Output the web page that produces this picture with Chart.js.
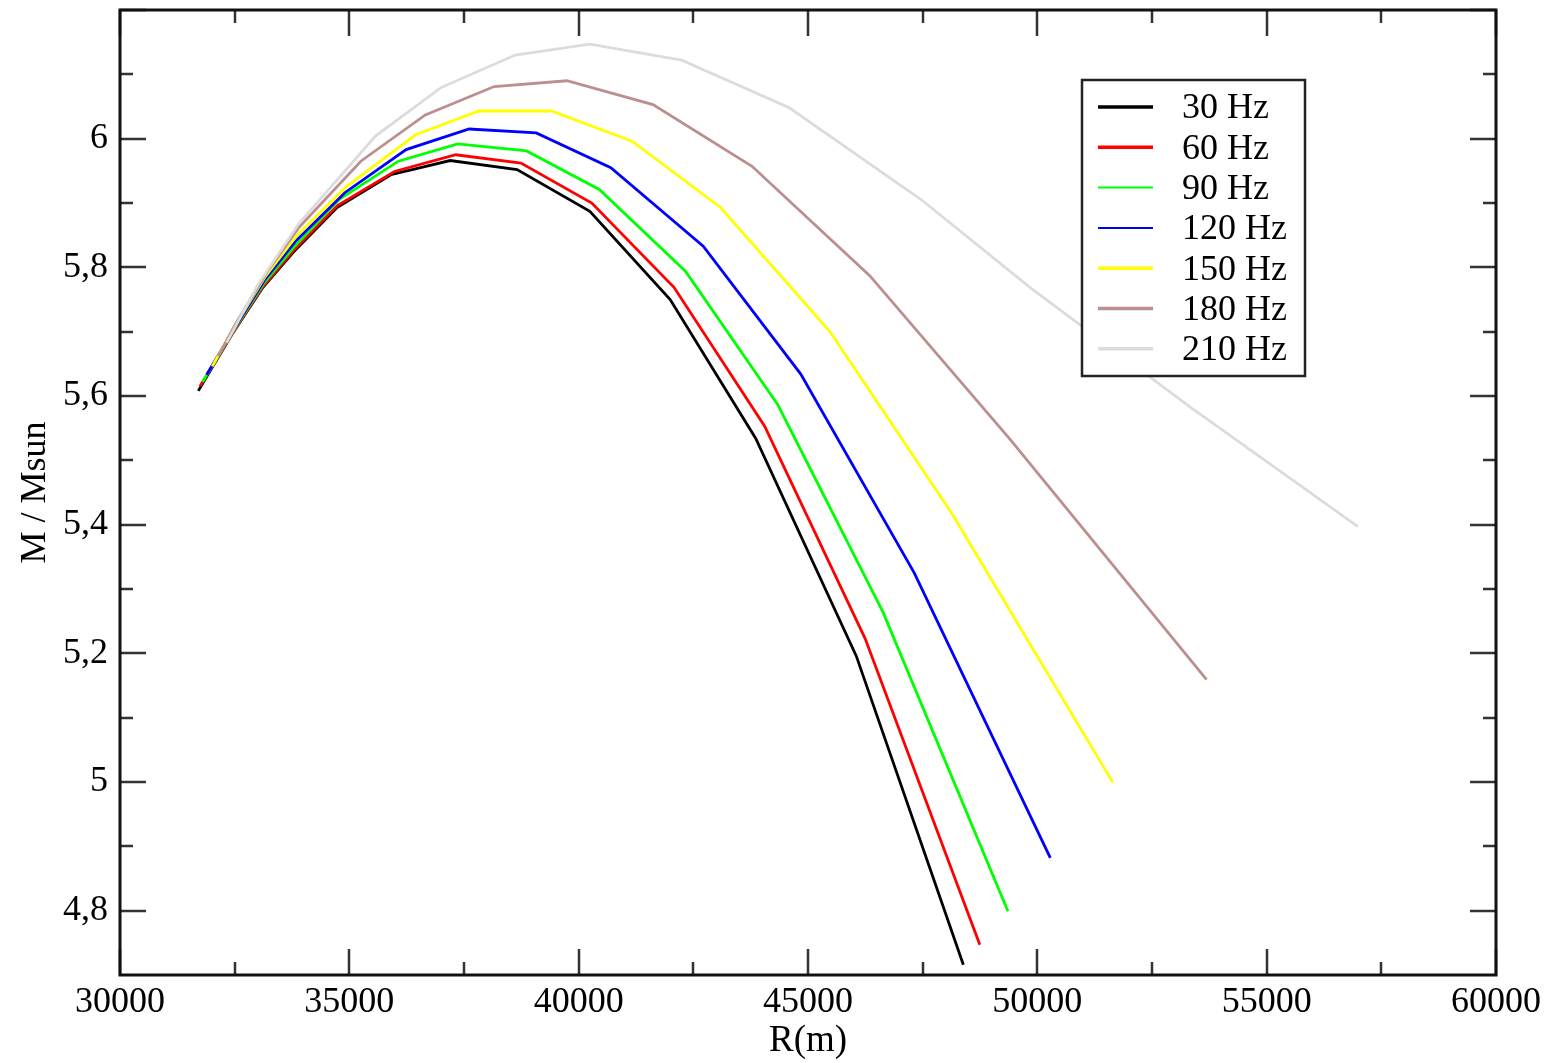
<!DOCTYPE html>
<html>
<head>
<meta charset="utf-8">
<script src="https://cdn.jsdelivr.net/npm/chart.js@4.4.0/dist/chart.umd.min.js"></script>
<style>
  body { margin: 0; background: #fff; }
  #wrap { width: 1556px; height: 1063px; }
</style>
</head>
<body>
<div id="wrap"><canvas id="massRadius" width="1556" height="1063"></canvas></div>
<script>
// Mass-radius curves for several rotation frequencies
var freqLabels = ['30 Hz', '60 Hz', '90 Hz', '120 Hz', '150 Hz', '180 Hz', '210 Hz'];
var lineColors = ['#000000', '#ff0000', '#00ff00', '#0000ff', '#ffff00', '#bc8f8f', '#dcdcdc'];

var r30 = [31707, 32442, 33118, 33772, 34731, 35906, 37199, 38657, 40244, 41995, 43861, 46052, 48387];
var m30 = [5.608, 5.696, 5.769, 5.823, 5.893, 5.944, 5.966, 5.952, 5.887, 5.750, 5.534, 5.196, 4.716];

var r60 = [31744, 32450, 33125, 33780, 34740, 35985, 37322, 38742, 40286, 42078, 44055, 46246, 48746];
var m60 = [5.615, 5.697, 5.771, 5.826, 5.896, 5.949, 5.975, 5.962, 5.900, 5.769, 5.553, 5.223, 4.747];

var r90 = [31802, 32460, 33135, 33795, 34790, 36069, 37362, 38865, 40450, 42328, 44345, 46635, 49359];
var m90 = [5.622, 5.700, 5.775, 5.832, 5.906, 5.965, 5.992, 5.981, 5.921, 5.794, 5.586, 5.264, 4.799];

var r120 = [31889, 32475, 33150, 33820, 34901, 36238, 37613, 39075, 40701, 42716, 44842, 47316, 50283];
var m120 = [5.633, 5.703, 5.780, 5.840, 5.916, 5.983, 6.015, 6.009, 5.955, 5.833, 5.634, 5.325, 4.882];

var r150 = [32011, 32495, 33170, 33860, 34943, 36446, 37822, 39408, 41162, 43093, 45469, 48141, 51648];
var m150 = [5.646, 5.708, 5.786, 5.850, 5.926, 6.006, 6.043, 6.043, 5.996, 5.893, 5.701, 5.417, 4.999];

var r180 = [32142, 32520, 33200, 33900, 35250, 36656, 38158, 39742, 41620, 43780, 46346, 49402, 53690];
var m180 = [5.662, 5.712, 5.792, 5.862, 5.965, 6.037, 6.081, 6.090, 6.053, 5.957, 5.787, 5.533, 5.159];

var r210 = [32326, 33000, 33900, 35570, 36989, 38615, 40244, 42245, 44593, 47473, 49838, 53327, 56989];
var m210 = [5.683, 5.772, 5.868, 6.004, 6.079, 6.130, 6.147, 6.122, 6.048, 5.905, 5.769, 5.583, 5.397];

var radii = [r30, r60, r90, r120, r150, r180, r210];
var masses = [m30, m60, m90, m120, m150, m180, m210];

var xTickValues = [30000, 35000, 40000, 45000, 50000, 55000, 60000];
var yTickValues = [4.8, 5, 5.2, 5.4, 5.6, 5.8, 6];
var yTickLabels = ['4,8', '5', '5,2', '5,4', '5,6', '5,8', '6'];

var serif = '"Liberation Serif", "Times New Roman", serif';

function toPoints(rs, ms) {
    return rs.map(function (r, i) { return { x: r, y: ms[i] }; });
}

var datasets = freqLabels.map(function (label, i) {
    return {
        label: label,
        data: toPoints(radii[i], masses[i]),
        borderColor: lineColors[i],
        borderWidth: 2.8,
        showLine: true,
        pointRadius: 0,
        tension: 0,
        fill: false,
        // later curves sit on top
        order: freqLabels.length - i
    };
});

// frame with inward ticks on all four sides, plus a boxed legend
var framePlugin = {
    id: 'frame',
    afterDraw: function (chart) {
        var ctx = chart.ctx;
        var a = chart.chartArea;
        var xs = chart.scales.x, ys = chart.scales.y;
        ctx.save();
        ctx.strokeStyle = '#333';
        ctx.lineWidth = 2.5;
        var major = 26, minor = 13;
        ctx.beginPath();
        for (var v = xs.min; v <= xs.max; v += 2500) {
            var px = Math.round(xs.getPixelForValue(v));
            var len = (v % 5000 === 0) ? major : minor;
            ctx.moveTo(px, a.bottom); ctx.lineTo(px, a.bottom - len);
            ctx.moveTo(px, a.top); ctx.lineTo(px, a.top + len);
        }
        for (var w = 4.8; w <= 6.21; w += 0.1) {
            var py = Math.round(ys.getPixelForValue(w));
            var isMajor = Math.abs(Math.round(w * 5) - w * 5) < 1e-6;
            var l2 = isMajor ? major : minor;
            ctx.moveTo(a.left, py); ctx.lineTo(a.left + l2, py);
            ctx.moveTo(a.right, py); ctx.lineTo(a.right - l2, py);
        }
        ctx.stroke();

        ctx.strokeStyle = '#111';
        ctx.lineWidth = 3;
        ctx.strokeRect(a.left, a.top, a.right - a.left, a.bottom - a.top);

        // legend
        var bx = 1082, by = 80, bw = 223, bh = 296;
        ctx.fillStyle = '#fff';
        ctx.fillRect(bx, by, bw, bh);
        ctx.strokeStyle = '#222';
        ctx.lineWidth = 2.5;
        ctx.strokeRect(bx, by, bw, bh);
        ctx.font = '36px ' + serif;
        ctx.textBaseline = 'middle';
        ctx.textAlign = 'left';
        chart.data.datasets.forEach(function (ds, i) {
            var cy = by + 27 + i * 40.3;
            ctx.strokeStyle = ds.borderColor;
            ctx.lineWidth = (i === 2 || i === 3) ? 2 : 3.5;
            ctx.beginPath();
            ctx.moveTo(bx + 16, cy);
            ctx.lineTo(bx + 71, cy);
            ctx.stroke();
            ctx.fillStyle = '#000';
            ctx.fillText(ds.label, bx + 100, cy + 2);
        });
        ctx.restore();
    }
};

var ctx = document.getElementById('massRadius').getContext('2d');
var massRadiusChart = new Chart(ctx, {
    type: 'scatter',
    data: { datasets: datasets },
    options: {
        responsive: false,
        animation: false,
        layout: { padding: { top: 10, right: 60, left: 0, bottom: 0 } },
        plugins: {
            legend: { display: false },
            tooltip: { enabled: false }
        },
        scales: {
            x: {
                type: 'linear',
                min: 30000,
                max: 60000,
                afterFit: function (scale) {
                    scale.height = 88;
                    scale.paddingLeft = 0;
                    scale.paddingRight = 0;
                },
                afterBuildTicks: function (scale) {
                    scale.ticks = xTickValues.map(function (v) { return { value: v }; });
                },
                grid: { display: false, drawTicks: false },
                border: { display: false },
                ticks: {
                    padding: 6,
                    color: '#000',
                    font: { family: serif, size: 36 },
                    maxRotation: 0,
                    callback: function (v) { return String(v); }
                },
                title: {
                    display: true,
                    text: 'R(m)',
                    color: '#000',
                    font: { family: serif, size: 37 },
                    padding: 0
                }
            },
            y: {
                type: 'linear',
                min: 4.7,
                max: 6.2,
                afterFit: function (scale) {
                    scale.width = 120;
                    scale.paddingTop = 0;
                    scale.paddingBottom = 0;
                },
                afterBuildTicks: function (scale) {
                    scale.ticks = yTickValues.map(function (v) { return { value: v }; });
                },
                grid: { display: false, drawTicks: false },
                border: { display: false },
                ticks: {
                    padding: 12,
                    color: '#000',
                    font: { family: serif, size: 36 },
                    callback: function (v) {
                        var k = yTickValues.indexOf(v);
                        return k >= 0 ? yTickLabels[k] : '';
                    }
                },
                title: {
                    display: true,
                    text: 'M / Msun',
                    color: '#000',
                    font: { family: serif, size: 36 },
                    padding: { top: 14, bottom: 0 }
                }
            }
        }
    },
    plugins: [framePlugin]
});
</script>
</body>
</html>
